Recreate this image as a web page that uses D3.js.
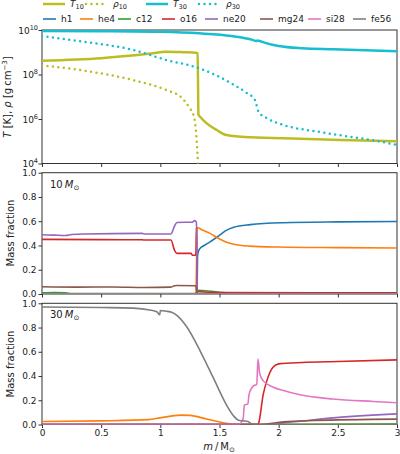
<!DOCTYPE html>
<html>
<head>
<meta charset="utf-8">
<script src="https://cdn.jsdelivr.net/npm/d3@7"></script>
<style>
  body { margin: 0; background: #fff; }
  svg { font-family: "DejaVu Sans", sans-serif; }
</style>
</head>
<body>
<svg id="chart" width="400" height="454"></svg>
<script>
// top panel: [m, value]
const T10 = [[0, 4.2e8], [0.5, 5.4e8], [0.9, 8.5e8], [1.05, 1.05e9], [1.2, 1.0e9], [1.3, 9.6e8], [1.315, 9e8],
    [1.322, 1.6e6], [1.34, 1.2e6], [1.39, 6.5e5], [1.476, 3.2e5], [1.56, 1.9e5], [1.76, 1.5e5], [2.18, 1.3e5], [2.52, 1.15e5], [3.0, 1.0e5]];
const rho10 = [[0, 2.6e8], [0.35, 1.5e8], [0.77, 5.6e7], [1.05, 2e7], [1.17, 1e7], [1.25, 3e6], [1.28, 1.5e6],
    [1.3, 3.2e5], [1.312, 4e4], [1.316, 1.5e4], [1.318, 3e3]];
const T30 = [[0, 9.1e9], [0.5, 8.9e9], [1.0, 8.3e9], [1.33, 7.1e9], [1.6, 5.4e9], [1.78, 3.6e9], [1.81, 3.2e9],
    [1.82, 3.4e9], [1.83, 3.3e9], [1.9, 2.5e9], [2.0, 1.9e9], [2.2, 1.5e9], [2.46, 1.35e9], [3.0, 1.1e9]];
const rho30 = [[0, 5.4e9], [0.2, 3.8e9], [0.35, 3e9], [0.77, 1.26e9], [1.05, 4.5e8], [1.33, 1.9e8], [1.6, 4e7],
    [1.72, 1.6e7], [1.8, 7e6], [1.83, 2.1e6], [1.9, 1.1e6], [2.04, 5.4e5], [2.33, 2.7e5], [2.6, 1.6e5], [2.8, 1.1e5], [3.0, 6.8e4]];

// 10 Msun mass fractions
const h1_10 = [[0, 0], [1.31, 0], [1.315, 0.32], [1.33, 0.37], [1.37, 0.40], [1.42, 0.43], [1.48, 0.47], [1.55, 0.52],
    [1.62, 0.55], [1.76, 0.572], [2.04, 0.588], [2.5, 0.595], [3.0, 0.598]];
const he4_10 = [[0, 0], [1.30, 0], [1.312, 0.547], [1.36, 0.525], [1.42, 0.5], [1.48, 0.465], [1.55, 0.43],
    [1.62, 0.41], [1.75, 0.395], [2.0, 0.387], [2.5, 0.382], [3.0, 0.379]];
const c12_10 = [[0, 0.01], [0.1, 0.012], [0.2, 0.01], [0.25, 0.003], [1.3, 0.003], [1.315, 0.03], [1.4, 0.025],
    [1.5, 0.015], [1.6, 0.005], [1.8, 0.002], [3.0, 0.002]];
const o16_10 = [[0, 0.45], [0.5, 0.448], [0.85, 0.447], [0.86, 0.445], [1.09, 0.445], [1.12, 0.36], [1.14, 0.335],
    [1.26, 0.335], [1.27, 0.32], [1.30, 0.32], [1.305, 0.547], [1.312, 0.02], [1.5, 0.012], [3.0, 0.01]];
const ne20_10 = [[0, 0.488], [0.1, 0.485], [0.2, 0.482], [0.25, 0.49], [0.35, 0.495], [0.85, 0.5], [0.86, 0.495],
    [1.09, 0.495], [1.12, 0.56], [1.14, 0.59], [1.27, 0.592], [1.29, 0.605], [1.305, 0.59], [1.312, 0.002], [3.0, 0.002]];
const mg24_10 = [[0, 0.06], [0.3, 0.057], [0.6, 0.058], [0.86, 0.054], [1.09, 0.057], [1.12, 0.068], [1.14, 0.07],
    [1.3, 0.068], [1.312, 0.005], [3.0, 0.003]];
const si28_10 = [[0, 0.001], [3.0, 0.001]];
const fe56_10 = [[0, 0], [3.0, 0]];

// 30 Msun mass fractions
const h1_30 = [[0, 0], [3.0, 0]];
const he4_30 = [[0, 0.025], [0.5, 0.03], [0.9, 0.04], [1.0, 0.055], [1.17, 0.077], [1.25, 0.075], [1.39, 0.045],
    [1.53, 0.015], [1.62, 0.0], [3.0, 0]];
const c12_30 = [[0, 0], [2.0, 0], [3.0, 0.003]];
const o16_30 = [[0, 0], [1.82, 0], [1.83, 0.01], [1.87, 0.25], [1.9, 0.36], [1.95, 0.47], [2.0, 0.5], [2.2, 0.512],
    [2.5, 0.52], [3.0, 0.533]];
const ne20_30 = [[0, 0], [1.95, 0], [2.05, 0.015], [2.18, 0.027], [2.46, 0.055], [3.0, 0.088]];
const mg24_30 = [[0, 0], [1.85, 0], [2.04, 0.022], [2.3, 0.033], [3.0, 0.044]];
const si28_30 = [[0, 0], [1.66, 0], [1.7, 0.05], [1.71, 0.16], [1.74, 0.17], [1.75, 0.25], [1.79, 0.32], [1.815, 0.33],
    [1.825, 0.54], [1.84, 0.42], [1.87, 0.36], [1.95, 0.31], [2.04, 0.28], [2.18, 0.245], [2.46, 0.21], [2.8, 0.19], [3.0, 0.18]];
const fe56_30 = [[0, 0.97], [0.5, 0.965], [0.77, 0.96], [0.91, 0.945], [0.97, 0.93], [0.995, 0.905], [1.0, 0.94],
    [1.05, 0.935], [1.1, 0.925], [1.14, 0.90], [1.22, 0.81], [1.34, 0.6], [1.45, 0.38], [1.56, 0.16], [1.62, 0.07],
    [1.66, 0.035], [1.7, 0.03], [1.74, 0.025], [1.77, 0.005], [1.8, 0], [3.0, 0]];

const isotopes = ["h1", "he4", "c12", "o16", "ne20", "mg24", "si28", "fe56"];
const isoColors = ["#1f77b4", "#ff7f0e", "#2ca02c", "#d62728", "#9467bd", "#8c564b", "#e377c2", "#7f7f7f"];
const series10 = [h1_10, he4_10, c12_10, o16_10, ne20_10, mg24_10, si28_10, fe56_10];
const series30 = [h1_30, he4_30, c12_30, o16_30, ne20_30, mg24_30, si28_30, fe56_30];
const xTicks = [0, 0.5, 1, 1.5, 2, 2.5, 3];
const logTicks = [1e4, 1e6, 1e8, 1e10];
const fracTicks = [0, 0.2, 0.4, 0.6, 0.8, 1.0];

const svg = d3.select("#chart");
const left = 42, right = 397;
const axisColor = "#333";

const x = d3.scaleLinear().domain([0, 3]).range([left, right]);
const yTop = d3.scaleLog().domain([1e4, 1e10]).range([163.5, 30]);
const yMid = d3.scaleLinear().domain([0, 1]).range([294, 172.7]);
const yBot = d3.scaleLinear().domain([0, 1]).range([424.5, 303.3]);

function panel(id, y, yTickVals, yFmt, showXLabels) {
    const [b, t] = y.range();
    svg.append("clipPath").attr("id", id).append("rect")
        .attr("x", left).attr("y", t).attr("width", right - left).attr("height", b - t);
    const g = svg.append("g");
    const xa = g.append("g").attr("transform", `translate(0,${b})`)
        .call(d3.axisBottom(x).tickValues(xTicks).tickSize(3.5).tickPadding(2)
            .tickFormat(showXLabels ? d3.format("") : ""));
    const ya = g.append("g").attr("transform", `translate(${left},0)`)
        .call(d3.axisLeft(y).tickValues(yTickVals).tickSize(3.5).tickPadding(2).tickFormat(yFmt));
    [xa, ya].forEach(a => {
        a.select(".domain").remove();
        a.selectAll("line").attr("stroke", axisColor);
        a.selectAll("text").attr("font-size", 9).attr("fill", "#222")
            .attr("font-family", "DejaVu Sans, sans-serif");
    });
    g.append("rect").attr("x", left).attr("y", t).attr("width", right - left).attr("height", b - t)
        .attr("fill", "none").attr("stroke", axisColor).attr("stroke-width", 1);
    return svg.append("g").attr("clip-path", `url(#${id})`);
}

const line = (y) => d3.line().x(d => x(d[0])).y(d => y(d[1])).curve(d3.curveMonotoneX);

// top panel
const gTop = panel("clipTop", yTop, logTicks, () => "", false);
const topSeries = [
    { data: T10, color: "#bcbd22", dotted: false },
    { data: rho10, color: "#bcbd22", dotted: true },
    { data: T30, color: "#17becf", dotted: false },
    { data: rho30, color: "#17becf", dotted: true },
];
topSeries.forEach(s => {
    gTop.append("path").datum(s.data).attr("d", line(yTop))
        .attr("fill", "none").attr("stroke", s.color).attr("stroke-width", 2.5)
        .attr("stroke-linecap", s.dotted ? "round" : "butt")
        .attr("stroke-dasharray", s.dotted ? "0,5.5" : null);
});
// log tick labels with superscripts
logTicks.forEach(v => {
    const t = svg.append("text").attr("x", 38).attr("y", yTop(v) + 3.5)
        .attr("text-anchor", "end").attr("font-size", 9).attr("fill", "#222");
    t.append("tspan").text("10");
    t.append("tspan").attr("font-size", 6.5).attr("dy", -4).text(Math.round(Math.log10(v)));
});

const fmt = d3.format(".1f");
const gMid = panel("clipMid", yMid, fracTicks, fmt, false);
const gBot = panel("clipBot", yBot, fracTicks, fmt, true);

[[gMid, series10, yMid], [gBot, series30, yBot]].forEach(([g, ser, y]) => {
    ser.forEach((data, i) => {
        g.append("path").datum(data).attr("d", line(y))
            .attr("fill", "none").attr("stroke", isoColors[i]).attr("stroke-width", 1.6);
    });
});

// annotations
[[yMid, "10", 188], [yBot, "30", 318]].forEach(([y, lab, ty]) => {
    const t = svg.append("text").attr("x", 50).attr("y", ty).attr("font-size", 10).attr("fill", "#222");
    t.append("tspan").text(lab + "\u2009");
    t.append("tspan").attr("font-style", "italic").text("M");
    t.append("tspan").attr("font-size", 7).attr("dy", 2).text("\u2299");
});

// axis labels
const yl = svg.append("text").attr("transform", "translate(11,97) rotate(-90)")
    .attr("text-anchor", "middle").attr("font-size", 10).attr("fill", "#222");
yl.append("tspan").attr("font-style", "italic").text("T");
yl.append("tspan").text(" [K],  ");
yl.append("tspan").attr("font-style", "italic").text("\u03c1");
yl.append("tspan").text(" [g\u2009cm");
yl.append("tspan").attr("font-size", 7).attr("dy", -4).text("\u22123");
yl.append("tspan").attr("dy", 4).text("]");

[233, 364].forEach(cy => {
    svg.append("text").attr("transform", `translate(14,${cy}) rotate(-90)`)
        .attr("text-anchor", "middle").attr("font-size", 10).attr("fill", "#222").text("Mass fraction");
});

const xl = svg.append("text").attr("x", 219).attr("y", 450).attr("text-anchor", "middle")
    .attr("font-size", 10).attr("fill", "#222");
xl.append("tspan").attr("font-style", "italic").text("m");
xl.append("tspan").text("\u2009/\u2009M");
xl.append("tspan").attr("font-size", 7).attr("dy", 2).text("\u2299");

// legend row 1
const leg1 = [
    { x: 42, lab: "10", sym: "T", color: "#bcbd22", dotted: false },
    { x: 85, lab: "10", sym: "\u03c1", color: "#bcbd22", dotted: true },
    { x: 145, lab: "30", sym: "T", color: "#17becf", dotted: false },
    { x: 198, lab: "30", sym: "\u03c1", color: "#17becf", dotted: true },
];
leg1.forEach(d => {
    svg.append("line").attr("x1", d.x + 1).attr("x2", d.x + 23).attr("y1", 4).attr("y2", 4)
        .attr("stroke", d.color).attr("stroke-width", 2.5)
        .attr("stroke-linecap", d.dotted ? "round" : "butt")
        .attr("stroke-dasharray", d.dotted ? "0,5.5" : null);
    const t = svg.append("text").attr("x", d.x + 28).attr("y", 7).attr("font-size", 9).attr("fill", "#222");
    t.append("tspan").attr("font-style", "italic").text(d.sym);
    t.append("tspan").attr("font-size", 6.5).attr("dy", 2).text(d.lab);
});

// legend row 2
const leg2X = [43, 80, 118, 162, 205, 260, 308, 353];
isotopes.forEach((name, i) => {
    svg.append("line").attr("x1", leg2X[i]).attr("x2", leg2X[i] + 13).attr("y1", 19).attr("y2", 19)
        .attr("stroke", isoColors[i]).attr("stroke-width", 1.6);
    svg.append("text").attr("x", leg2X[i] + 18).attr("y", 22).attr("font-size", 9).attr("fill", "#222").text(name);
});
</script>
</body>
</html>
